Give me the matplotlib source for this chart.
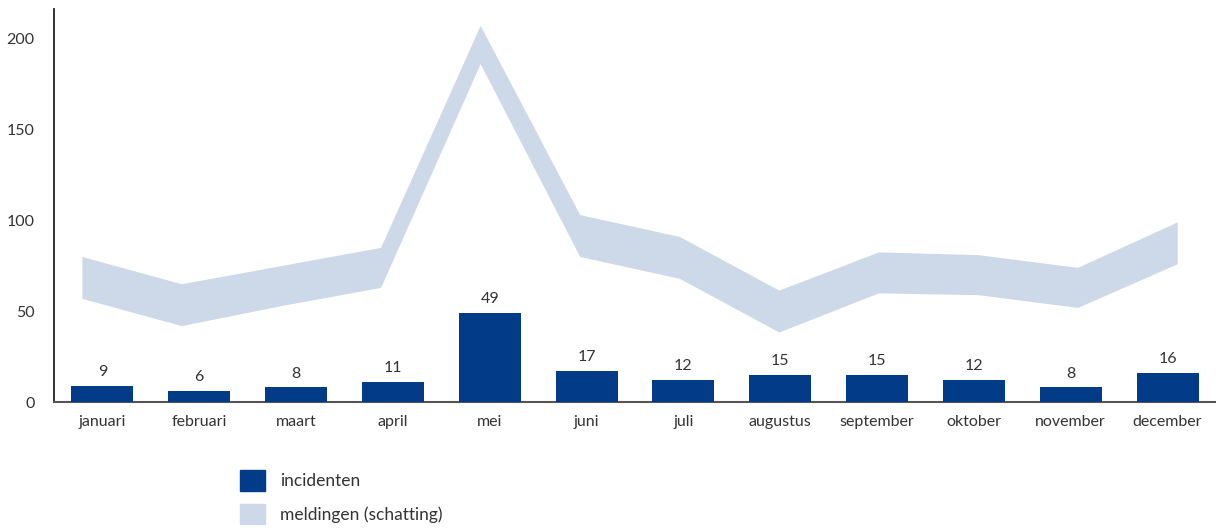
import matplotlib.pyplot as plt
from matplotlib.patches import Patch
import numpy as np

# --- data ---
maanden = ['januari', 'februari', 'maart', 'april', 'mei', 'juni', 'juli',
           'augustus', 'september', 'oktober', 'november', 'december']
incidenten = [9, 6, 8, 11, 49, 17, 12, 15, 15, 12, 8, 16]
meldingen_laag = [57, 42, 53, 63, 186, 80, 68, 38.5, 60, 59, 52, 76]
meldingen_hoog = [80, 65, 75, 85, 207, 103, 91, 61.5, 82.5, 81, 74, 99]

bar_color = '#023B87'
band_color = '#CDD8E8'
text_color = '#333333'

plt.rcParams['font.family'] = ['Lato', 'DejaVu Sans']

fig = plt.figure(figsize=(12.16, 5.29), dpi=100)
ax = fig.add_axes([0.0444, 0.240, 0.9556, 0.743])

# band on its own x scale (it is a bit wider than the bar categories)
ax2 = ax.twiny()
x_band = np.arange(len(maanden))
ax2.fill_between(x_band, meldingen_laag, meldingen_hoog, color=band_color, lw=0)
ax2.set_xlim(-0.28, 11.39)
ax2.set_xticks([])
for s in ax2.spines.values():
    s.set_visible(False)

x = np.arange(len(maanden))
bars = ax.bar(x, incidenten, width=0.64, color=bar_color, zorder=3)
ax.set_zorder(ax2.get_zorder() + 1)
ax.patch.set_visible(False)
for xi, v in zip(x, incidenten):
    ax.annotate(str(v), (xi, v), xytext=(0, 5), textcoords='offset points',
                ha='center', va='bottom', fontsize=11.5, color=text_color)

ax.set_xlim(-0.5, 11.5)
ax.set_ylim(0, 216)
ax2.set_ylim(0, 216)
ax.set_yticks([0, 50, 100, 150, 200])
ax.set_xticks(x)
ax.set_xticklabels(maanden)
ax.tick_params(axis='both', length=0, labelsize=11.5, labelcolor=text_color)
ax.tick_params(axis='y', pad=14)
ax.tick_params(axis='x', pad=9)
ax.spines['top'].set_visible(False)
ax.spines['right'].set_visible(False)
ax.spines['left'].set_color('#222222')
ax.spines['left'].set_linewidth(1.3)
ax.spines['bottom'].set_color('#555555')
ax.spines['bottom'].set_linewidth(1.5)

handles = [Patch(color=bar_color, label='incidenten'),
           Patch(color=band_color, label='meldingen (schatting)')]
fig.legend(handles=handles, loc='lower left', bbox_to_anchor=(0.1845, -0.021),
           frameon=False, fontsize=12.5, handlelength=1.45, handleheight=1.45,
           handletextpad=0.85, labelspacing=0.75, labelcolor=text_color)

fig.savefig('out.png', dpi=100)
